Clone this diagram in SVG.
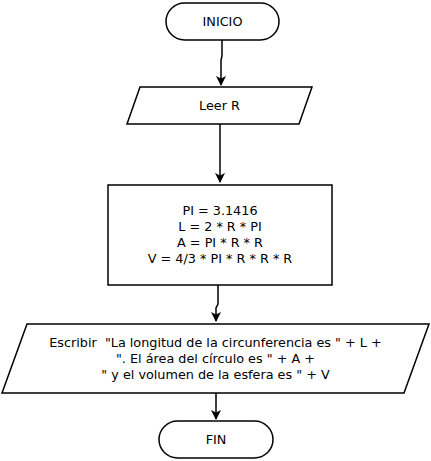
<svg xmlns="http://www.w3.org/2000/svg" width="431" height="461" viewBox="0 0 431 461">
<defs>
<style>
.s{fill:#fff;stroke:#000;stroke-width:1.5}
.t{font-family:"DejaVu Sans",sans-serif;font-size:12.8px;fill:#000;text-anchor:middle;white-space:pre}
.c{fill:none;stroke:#000;stroke-width:1.5}
</style>
<marker id="a" markerWidth="10" markerHeight="10" refX="9" refY="5" orient="auto" markerUnits="userSpaceOnUse">
<path d="M0,0 L10,5 L0,10 L2.5,5 Z" fill="#000"/>
</marker>
</defs>
<rect width="431" height="461" fill="#fff"/>
<g id="connectors">
<path class="c" d="M222,40 L222,56 L221,60 L221,85" marker-end="url(#a)"/>
<path class="c" d="M220,124 L220,182" marker-end="url(#a)"/>
<path class="c" d="M218,285 L218,304 L216,308 L216,321" marker-end="url(#a)"/>
<path class="c" d="M216,393 L216,419" marker-end="url(#a)"/>
</g>
<g id="inicio">
<rect class="s" x="166" y="3" width="113" height="37" rx="18.5"/>
<text class="t" x="222.5" y="26">INICIO</text>
</g>
<g id="leer">
<polygon class="s" points="140,87 312,87 299,124 127,124"/>
<text class="t" x="219.5" y="110">Leer R</text>
</g>
<g id="proceso">
<rect class="s" x="108" y="185" width="224" height="100"/>
<text class="t" x="220" y="215">PI = 3.1416</text>
<text class="t" x="220" y="231">L = 2 * R * PI</text>
<text class="t" x="220" y="247">A = PI * R * R</text>
<text class="t" x="220" y="263">V = 4/3 * PI * R * R * R</text>
</g>
<g id="escribir">
<polygon class="s" points="27,324 429,324 404,393 2,393"/>
<text class="t" x="215.5" y="347">Escribir  "La longitud de la circunferencia es " + L +</text>
<text class="t" x="215.5" y="363">". El área del círculo es " + A +</text>
<text class="t" x="215.5" y="379">" y el volumen de la esfera es " + V</text>
</g>
<g id="fin">
<rect class="s" x="159" y="421" width="114" height="37" rx="18.5"/>
<text class="t" x="216" y="444">FIN</text>
</g>
</svg>
